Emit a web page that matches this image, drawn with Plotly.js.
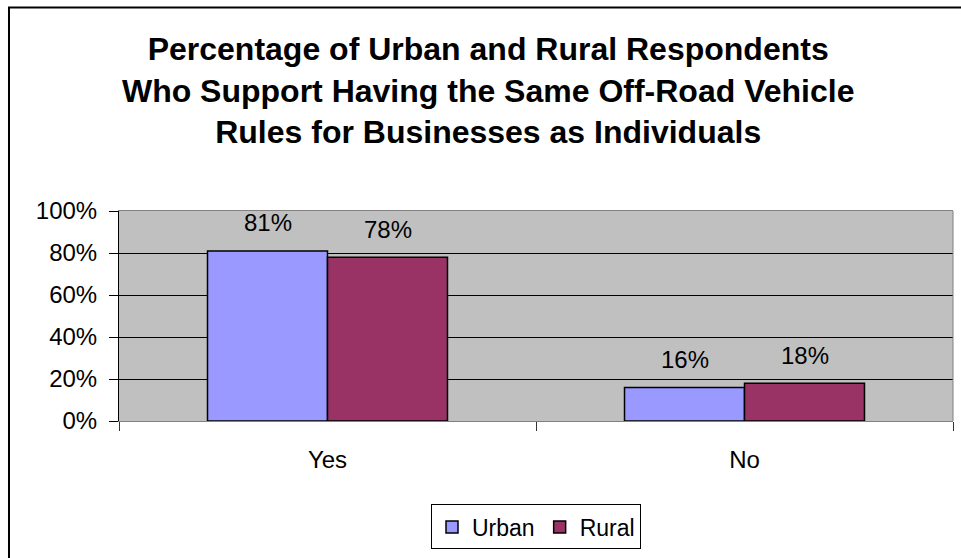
<!DOCTYPE html>
<html><head><meta charset="utf-8">
<script src="https://cdn.plot.ly/plotly-3.0.1.min.js"></script>
<style>html,body{margin:0;padding:0;background:#fff;} #chart{width:961px;height:558px;}</style>
</head><body><div id="chart"></div>
<script>
const categories = ['Yes', 'No'];
const seriesNames = ['Urban', 'Rural'];
const urbanValues = [0.81, 0.16];
const ruralValues = [0.78, 0.18];
const seriesColors = ['#9999FF', '#993366'];
const yTickValues = [0, 0.2, 0.4, 0.6, 0.8, 1.0];
const titleLines = [
  'Percentage of Urban and Rural Respondents',
  'Who Support Having the Same Off-Road Vehicle',
  'Rules for Businesses as Individuals'
];

const FONT = '"Liberation Sans", Arial, sans-serif';
const BARGAP = 0.4245;
const series = [urbanValues, ruralValues];

const traces = series.map((vals, j) => ({
  type: 'bar', name: seriesNames[j], x: categories, y: vals,
  marker: {color: seriesColors[j], line: {color: '#000', width: 1.5}},
  hoverinfo: 'skip'
}));

const barW = (1 - BARGAP) / series.length;
const annotations = [];
series.forEach((vals, j) => {
  const off = (j - (series.length - 1) / 2) * barW;
  vals.forEach((v, i) => {
    annotations.push({
      xref: 'x', yref: 'y', x: i + off, y: v,
      text: Math.round(v * 100) + '%', showarrow: false,
      yanchor: 'middle', yshift: 28,
      font: {family: FONT, size: 24, color: '#000'}
    });
  });
});

const layout = {
  width: 961, height: 558,
  margin: {l: 119, r: 8, t: 211, b: 135, pad: 0},
  paper_bgcolor: '#fff', plot_bgcolor: '#C0C0C0',
  barmode: 'group', bargap: BARGAP, bargroupgap: 0,
  font: {family: FONT, size: 24, color: '#000'},
  title: {
    text: titleLines.join('<br>'),
    font: {family: FONT, size: 32, color: '#000', weight: 'bold'},
    x: 0.508, xref: 'container', xanchor: 'center',
    y: 0.892, yref: 'container', yanchor: 'top'
  },
  xaxis: {
    type: 'category', showline: true, linecolor: '#808080', linewidth: 1, mirror: true,
    ticks: 'outside', tickson: 'boundaries', ticklen: 9, tickcolor: '#333', tickwidth: 1,
    showgrid: false, zeroline: false, ticklabelstandoff: 17,
    tickfont: {family: FONT, size: 24, color: '#000'}
  },
  yaxis: {
    range: [0, 1], tickvals: yTickValues, tickformat: '.0%',
    showline: true, linecolor: '#000', linewidth: 1,
    ticks: 'outside', ticklen: 9, tickcolor: '#000', tickwidth: 1,
    showgrid: true, gridcolor: '#000', gridwidth: 1, zeroline: false,
    ticklabelstandoff: 7,
    tickfont: {family: FONT, size: 24, color: '#000'}
  },
  showlegend: true,
  legend: {
    orientation: 'h', x: 0.5, xanchor: 'center', y: -0.3976, yanchor: 'top',
    bordercolor: '#000', borderwidth: 1, bgcolor: '#fff',
    font: {family: FONT, size: 23, color: '#000'}, traceorder: 'normal'
  },
  shapes: [
    {type: 'line', xref: 'paper', yref: 'paper', x0: 1, x1: 1, y0: 0, y1: 1,
     line: {color: '#808080', width: 1}},
    {type: 'rect', xref: 'paper', yref: 'paper', x0: -0.1319, x1: 1.03, y0: -0.72, y1: 1.969,
     line: {color: '#000', width: 2}, fillcolor: 'rgba(0,0,0,0)'}
  ],
  annotations: annotations
};

Plotly.newPlot('chart', traces, layout, {displayModeBar: false, staticPlot: true});
</script>
</body></html>
